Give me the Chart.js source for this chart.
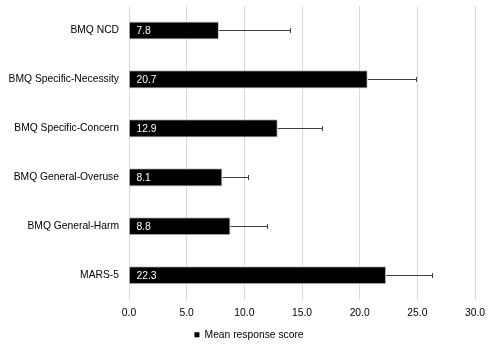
<!DOCTYPE html>
<html>
<head>
<meta charset="utf-8">
<script src="https://cdn.jsdelivr.net/npm/chart.js@4/dist/chart.umd.min.js"></script>
<style>
  html, body { margin: 0; padding: 0; background: #fff; }
  #wrap { width: 491px; height: 347px; position: relative; }
</style>
</head>
<body>
<div id="wrap"><canvas id="chart" aria-label="Mean response score chart" role="img"></canvas></div>
<script>
const categories = [
  'BMQ NCD',
  'BMQ Specific-Necessity',
  'BMQ Specific-Concern',
  'BMQ General-Overuse',
  'BMQ General-Harm',
  'MARS-5',
];
const meanScores = [7.8, 20.7, 12.9, 8.1, 8.8, 22.3];
const sdScores = [6.2, 4.2, 3.8, 2.2, 3.2, 4.0];
const xTicks = [0, 5, 10, 15, 20, 25, 30];

const FONT = 'Liberation Sans, Arial, sans-serif';
const FONT_SIZE = 10.3;

// one-sided error whiskers, drawn to the right of each bar
const errorBars = {
  id: 'errorBars',
  afterDatasetsDraw(chart) {
    const { ctx } = chart;
    const xScale = chart.scales.x;
    const meta = chart.getDatasetMeta(0);
    ctx.save();
    ctx.strokeStyle = '#404040';
    ctx.lineWidth = 1;
    meta.data.forEach((bar, i) => {
      const x0 = xScale.getPixelForValue(meanScores[i]);
      const x1 = Math.round(xScale.getPixelForValue(meanScores[i] + sdScores[i])) + 0.5;
      const y = Math.round(bar.y) + 0.5;
      ctx.beginPath();
      ctx.moveTo(x0, y);
      ctx.lineTo(x1, y);
      ctx.moveTo(x1, y - 2.5);
      ctx.lineTo(x1, y + 2.5);
      ctx.stroke();
    });
    ctx.restore();
  },
};

// value text inside the bar, near its base
const valueLabels = {
  id: 'valueLabels',
  afterDatasetsDraw(chart) {
    const { ctx } = chart;
    const meta = chart.getDatasetMeta(0);
    ctx.save();
    ctx.fillStyle = '#ffffff';
    ctx.font = `${FONT_SIZE}px ${FONT}`;
    ctx.textBaseline = 'middle';
    ctx.textAlign = 'left';
    meta.data.forEach((bar, i) => {
      ctx.fillText(meanScores[i].toFixed(1), bar.base + 7, bar.y + 0.5);
    });
    ctx.restore();
  },
};

new Chart(document.getElementById('chart'), {
  type: 'bar',
  data: {
    labels: categories,
    datasets: [{
      label: 'Mean response score',
      data: meanScores,
      backgroundColor: '#000000',
      borderColor: '#c8c8c8',
      borderWidth: 1,
      categoryPercentage: 0.7,
      barPercentage: 0.53,
    }],
  },
  options: {
    indexAxis: 'y',
    responsive: true,
    maintainAspectRatio: false,
    animation: false,
    // legend sits lower than chart.js would put it by default
    layout: { padding: { top: 6, right: 0, bottom: -3, left: 7 } },
    scales: {
      x: {
        min: 0,
        max: 30,
        afterBuildTicks(scale) {
          scale.ticks = xTicks.map(v => ({ value: v }));
        },
        afterFit(scale) {
          scale.height = 29;
          scale.paddingLeft = 0;
          scale.paddingRight = 16;
        },
        grid: { color: '#d9d9d9', drawTicks: false },
        border: { display: false },
        ticks: {
          padding: 7,
          color: '#000',
          font: { family: FONT, size: FONT_SIZE },
          callback: v => Number(v).toFixed(1),
        },
      },
      y: {
        afterFit(scale) {
          scale.width = 122;
          scale.paddingTop = 0;
          scale.paddingBottom = 0;
        },
        grid: { display: false, drawTicks: false },
        border: { display: false },
        ticks: {
          padding: 10,
          color: '#000',
          font: { family: FONT, size: FONT_SIZE },
        },
      },
    },
    plugins: {
      legend: {
        position: 'bottom',
        labels: {
          boxWidth: 5,
          boxHeight: 5,
          padding: 1,
          color: '#000',
          font: { family: FONT, size: FONT_SIZE },
          generateLabels: chart => [{
            text: chart.data.datasets[0].label,
            fillStyle: '#000',
            strokeStyle: '#000',
            lineWidth: 0,
            datasetIndex: 0,
          }],
        },
      },
      tooltip: { enabled: false },
    },
  },
  plugins: [errorBars, valueLabels],
});
</script>
</body>
</html>
